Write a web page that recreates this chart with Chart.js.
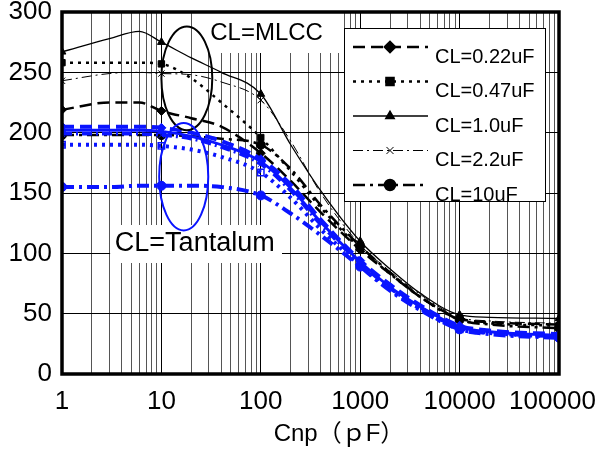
<!DOCTYPE html>
<html>
<head>
<meta charset="utf-8">
<script src="https://cdn.jsdelivr.net/npm/chart.js@4.4.1/dist/chart.umd.min.js"></script>
<style>
  body { margin: 0; background: #fff; }
</style>
</head>
<body>
<canvas id="myChart" width="596" height="453"></canvas>
<script>
// Cnp values (pF) where each curve was read
const cnp = [1, 3, 6, 10, 20, 40, 100, 200, 400, 1000, 2000, 4000, 10000, 20000, 100000];

// MLCC curves (black)
const mlcc_022 = [219, 225, 225, 218, 212, 205, 183, 160, 134, 103, 83, 64, 46, 43, 41];
const mlcc_047 = [258, 258, 258, 257, 245, 225, 196, 168, 138, 104, 83, 64, 45, 42, 40];
const mlcc_10  = [267, 278, 284, 275, 262, 250, 232, 190, 152, 110, 87, 67, 49, 47, 46];
const mlcc_22  = [243, 249, 250, 249, 248, 242, 227, 193, 150, 107, 85, 66, 47, 44, 42];
const mlcc_100 = [198, 198, 198, 198, 197, 195, 190, 170, 140, 106, 84, 64, 45, 41, 38];

// Tantalum curves (blue)
const tant_022 = [205, 205, 205, 204, 200, 193, 178, 157, 128, 94, 74, 57, 40, 36, 33];
const tant_047 = [190, 190, 190, 189, 186, 180, 167, 146, 120, 90, 70, 54, 37, 34, 31];
const tant_10  = [202, 202, 202, 201, 197, 190, 176, 154, 126, 93, 72, 56, 39, 35, 32];
const tant_22  = [199, 199, 199, 198, 195, 188, 174, 152, 124, 92, 71, 55, 38, 34, 31];
const tant_100 = [155, 155, 156, 156, 156, 155, 148, 133, 115, 89, 69, 53, 37, 33, 30];

const legendLabels = ['CL=0.22uF', 'CL=0.47uF', 'CL=1.0uF', 'CL=2.2uF', 'CL=10uF'];
const xTickLabels = [1, 10, 100, 1000, 10000, 100000];
const yTicks = [0, 50, 100, 150, 200, 250, 300];

const FONT = "'Liberation Sans', Arial, sans-serif";

// line styles shared by both groups
const styles = [
    { dash: [12, 6], point: 'rectRot', w: 2.5 },
    { dash: [3, 5], point: 'rect', w: 2.5 },
    { dash: [], point: 'triangle', w: 1.3 },
    { dash: [10, 4, 2, 4], point: 'crossRot', w: 1 },
    { dash: [12, 5, 3, 5], point: 'circle', w: 2.5 }
];

const isDecade = v => xTickLabels.includes(v);

function makeSet(label, values, st, color, extraW, hollow) {
    return {
        label: label,
        data: values.map((v, i) => ({ x: cnp[i], y: v })),
        borderColor: color,
        backgroundColor: hollow ? 'rgba(0,0,0,0)' : color,
        borderWidth: st.w + extraW,
        borderDash: st.dash,
        pointStyle: st.point,
        pointRadius: ctx => isDecade(cnp[ctx.dataIndex]) ? 4.5 : 0,
        pointBorderWidth: hollow ? 1.5 : 1,
        pointBorderColor: color,
        pointBackgroundColor: hollow ? 'rgba(0,0,0,0)' : color,
        cubicInterpolationMode: 'monotone',
        fill: false
    };
}

const blue = '#0a14ff';
const datasets = [
    makeSet('T 0.22', tant_022, styles[0], blue, 1.5, false),
    makeSet('T 0.47', tant_047, styles[1], blue, 1.5, true),
    makeSet('T 1.0', tant_10, styles[2], blue, 1.5, false),
    makeSet('T 2.2', tant_22, styles[3], blue, 2.5, false),
    makeSet('T 10', tant_100, styles[4], blue, 1.5, false),
    makeSet(legendLabels[0], mlcc_022, styles[0], '#000', 0, false),
    makeSet(legendLabels[1], mlcc_047, styles[1], '#000', 0, false),
    makeSet(legendLabels[2], mlcc_10, styles[2], '#000', 0, false),
    makeSet(legendLabels[3], mlcc_22, styles[3], '#000', 0, false),
    makeSet(legendLabels[4], mlcc_100, styles[4], '#000', 0, false)
];

// annotation placement in data units
const mlccNote = { text: 'CL=MLCC', x: 31, y: 282, box: [24, 344, 12, 53] };
const tantNote = { text: 'CL=Tantalum', x: 3.4, y: 108, box: [3.05, 282, 225, 263] };
const mlccEllipse = { x0: 10, x1: 32.5, y0: 202, y1: 288 };
const tantEllipse = { x0: 9.5, x1: 29.6, y0: 119, y1: 208 };

const notes = {
    id: 'notes',
    beforeDatasetsDraw(chart) {
        const c = chart.ctx, xs = chart.scales.x, ys = chart.scales.y;
        c.save();
        c.fillStyle = '#fff';
        // white boxes behind the notes (pixel extents for right/top/bottom)
        let l = xs.getPixelForValue(mlccNote.box[0]);
        c.fillRect(l, mlccNote.box[2], mlccNote.box[1] - l, mlccNote.box[3] - mlccNote.box[2]);
        l = xs.getPixelForValue(tantNote.box[0]);
        c.fillRect(l, tantNote.box[2], tantNote.box[1] - l, tantNote.box[3] - tantNote.box[2]);
        c.fillStyle = '#000';
        c.textBaseline = 'middle';
        c.textAlign = 'left';
        c.font = '24px ' + FONT;
        c.fillText(mlccNote.text, xs.getPixelForValue(mlccNote.x), ys.getPixelForValue(mlccNote.y));
        c.font = '27px ' + FONT;
        c.fillText(tantNote.text, xs.getPixelForValue(tantNote.x), ys.getPixelForValue(tantNote.y));
        c.restore();
    },
    afterDatasetsDraw(chart) {
        const c = chart.ctx, xs = chart.scales.x, ys = chart.scales.y, a = chart.chartArea;
        c.save();
        // ellipses
        [[mlccEllipse, '#000'], [tantEllipse, blue]].forEach(([e, col]) => {
            const x0 = xs.getPixelForValue(e.x0), x1 = xs.getPixelForValue(e.x1);
            const y0 = ys.getPixelForValue(e.y1), y1 = ys.getPixelForValue(e.y0);
            c.beginPath();
            c.ellipse((x0 + x1) / 2, (y0 + y1) / 2, (x1 - x0) / 2, (y1 - y0) / 2, 0, 0, Math.PI * 2);
            c.strokeStyle = col;
            c.lineWidth = 2;
            c.setLineDash([]);
            c.stroke();
        });

        // legend box
        const bx = 344, by = 28, bw = 201, bh = 173;
        c.fillStyle = '#fff';
        c.fillRect(bx, by, bw, bh);
        c.lineWidth = 1;
        c.strokeStyle = '#000';
        c.strokeRect(bx + 0.5, by + 0.5, bw, bh);
        legendLabels.forEach((lab, i) => {
            const st = styles[i];
            const y = 47 + i * 34.5;
            c.beginPath();
            c.setLineDash(st.dash);
            c.lineWidth = st.w;
            c.moveTo(353, y);
            c.lineTo(428, y);
            c.stroke();
            c.setLineDash([]);
            c.fillStyle = '#000';
            Chart.helpers.drawPoint(c, { pointStyle: st.point, radius: 5, borderWidth: 1 }, 390, y);
            c.fill();
            c.fillStyle = '#000';
            c.font = '20px ' + FONT;
            c.textBaseline = 'middle';
            c.textAlign = 'left';
            c.fillText(lab, 435, y + 10);
        });

        // thick plot border
        c.setLineDash([]);
        c.lineWidth = 3.5;
        c.strokeStyle = '#000';
        c.strokeRect(a.left, a.top, a.right - a.left, a.bottom - a.top);

        // axis title
        c.fillStyle = '#000';
        c.font = '24px ' + FONT + ", 'Noto Sans CJK JP'";
        c.textAlign = 'center';
        c.textBaseline = 'middle';
        c.fillText('Cnp（ｐF）', 339, 434);
        c.restore();
    }
};

const ctx = document.getElementById('myChart').getContext('2d');
const myChart = new Chart(ctx, {
    type: 'line',
    data: { datasets: datasets },
    options: {
        responsive: false,
        animation: false,
        devicePixelRatio: 1,
        layout: { padding: { top: 12, right: 37, left: 0, bottom: 0 } },
        plugins: { legend: { display: false }, tooltip: { enabled: false } },
        scales: {
            x: {
                type: 'logarithmic',
                min: 1,
                max: 100000,
                afterBuildTicks: s => {
                    const t = [];
                    xTickLabels.forEach(d => {
                        for (let m = 1; m <= 9; m++) {
                            if (d * m <= 100000) t.push({ value: d * m });
                        }
                    });
                    s.ticks = t;
                },
                afterFit: s => { s.height = 79; s.paddingLeft = 0; s.paddingRight = 0; },
                ticks: {
                    autoSkip: false,
                    maxRotation: 0,
                    padding: 12,
                    color: '#000',
                    font: { family: FONT, size: 26 },
                    // last label nudged left so it stays inside the canvas
                    callback: v => !isDecade(v) ? '' : (v === 100000 ? String(v) + '\u2002' : String(v))
                },
                grid: {
                    drawTicks: false,
                    lineWidth: 1,
                    color: c => isDecade(c.tick.value) ? '#000' : '#555'
                },
                border: { display: false }
            },
            y: {
                min: 0,
                max: 300,
                afterBuildTicks: s => { s.ticks = yTicks.map(v => ({ value: v })); },
                afterFit: s => { s.width = 62; s.paddingTop = 0; s.paddingBottom = 0; },
                ticks: {
                    padding: 10,
                    color: '#000',
                    font: { family: FONT, size: 26 }
                },
                grid: { drawTicks: false, lineWidth: 1, color: '#000' },
                border: { display: false }
            }
        }
    },
    plugins: [notes]
});
</script>
</body>
</html>
